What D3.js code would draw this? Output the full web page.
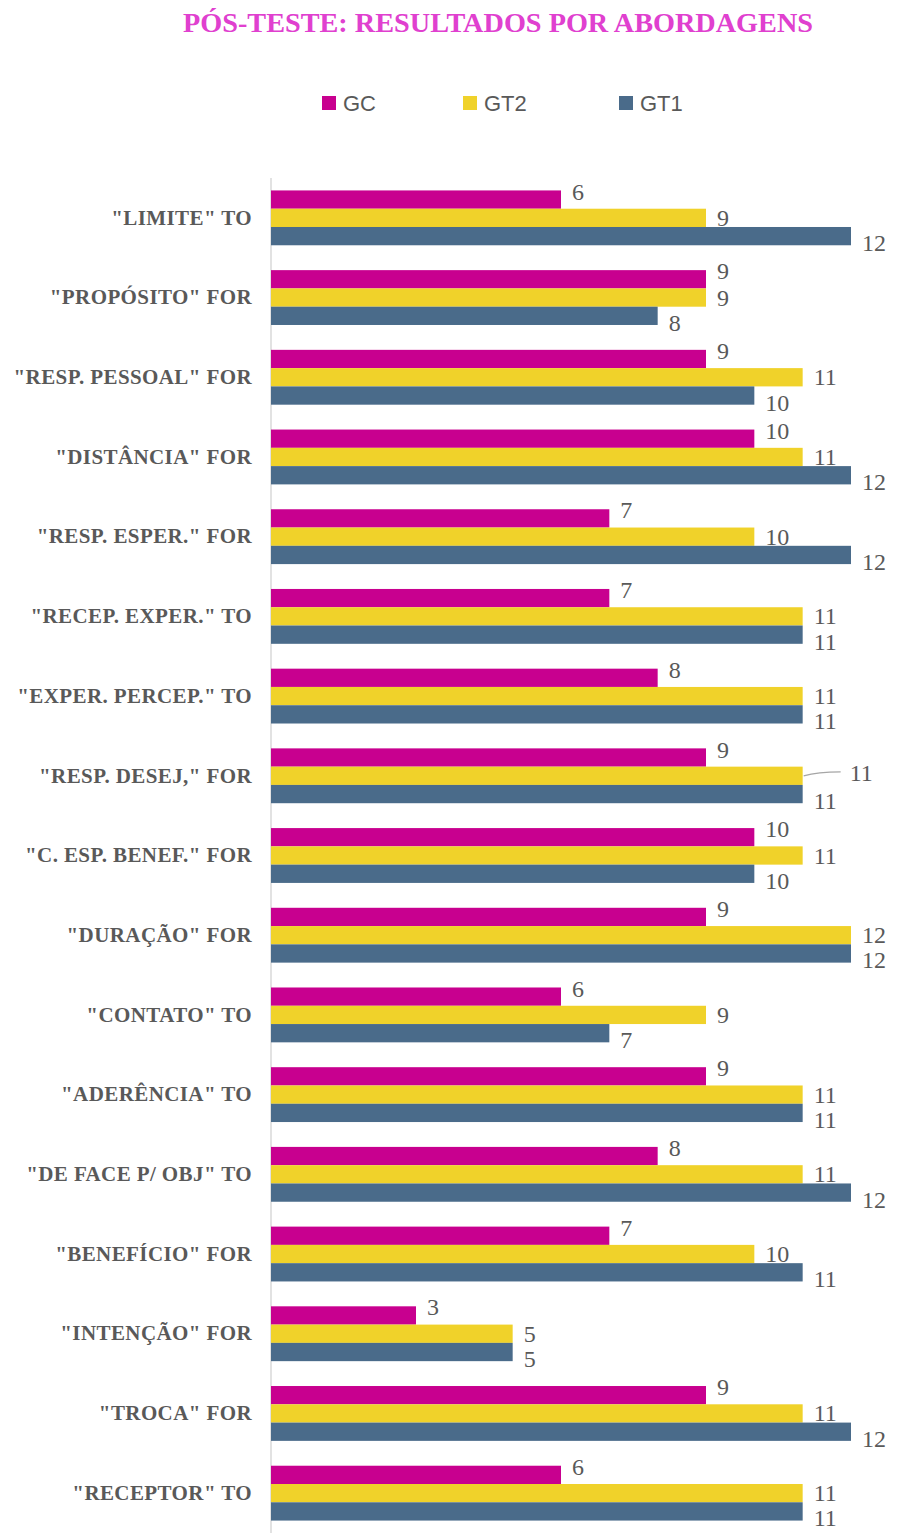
<!DOCTYPE html>
<html><head><meta charset="utf-8">
<script src="https://cdn.jsdelivr.net/npm/d3@7"></script>
<style>body{margin:0;background:#fff}</style>
</head><body>
<svg id="chart" width="898" height="1533"></svg>
<script>
const categories = ['"LIMITE" TO','"PROPÓSITO" FOR','"RESP. PESSOAL" FOR','"DISTÂNCIA" FOR','"RESP. ESPER." FOR','"RECEP. EXPER." TO','"EXPER. PERCEP." TO','"RESP. DESEJ," FOR','"C. ESP. BENEF." FOR','"DURAÇÃO" FOR','"CONTATO" TO','"ADERÊNCIA" TO','"DE FACE P/ OBJ" TO','"BENEFÍCIO" FOR','"INTENÇÃO" FOR','"TROCA" FOR','"RECEPTOR" TO'];
const seriesNames = ["GC","GT2","GT1"];
const GC  = [6,9,9,10,7,7,8,9,10,9,6,9,8,7,3,9,6];
const GT2 = [9,9,11,11,10,11,11,11,11,12,9,11,11,10,5,11,11];
const GT1 = [12,8,10,12,12,11,11,11,10,12,7,11,12,11,5,12,11];
const seriesValues = [GC, GT2, GT1];
const colors = ["#C8008F","#F0D22A","#4A6B8A"];

const svg = d3.select("#chart");
const x = d3.scaleLinear().domain([0,12]).range([271,851]);
const y0 = d3.scaleBand().domain(categories).range([178,1533]).padding(0);
const y1 = d3.scaleBand().domain(seriesNames).range([0,y0.bandwidth()]).paddingInner(0).paddingOuter(0.68);

// title
svg.append("text").attr("x",498).attr("y",32).attr("text-anchor","middle")
  .attr("font-family","'Liberation Serif','Times New Roman',serif").attr("font-weight","bold")
  .attr("font-size",27).attr("fill","#E040CF").attr("textLength",630).attr("lengthAdjust","spacingAndGlyphs")
  .text("PÓS-TESTE: RESULTADOS POR ABORDAGENS");

// legend
const legX = [322,463,619];
seriesNames.forEach((s,i)=>{
  const g = svg.append("g").attr("transform",`translate(${legX[i]},96)`);
  g.append("rect").attr("width",14).attr("height",14).attr("fill",colors[i]);
  g.append("text").attr("x",21).attr("y",7).attr("dominant-baseline","central")
    .attr("font-family","'Liberation Sans',Arial,sans-serif").attr("font-size",22).attr("fill","#595959").text(s);
});

// axis line
svg.append("line").attr("x1",x(0)).attr("x2",x(0)).attr("y1",178).attr("y2",1533)
  .attr("stroke","#D9D9D9").attr("stroke-width",1.5);

// category labels
const yAxis = d3.axisLeft(y0).tickSize(0).tickPadding(19);
const ag = svg.append("g").attr("transform",`translate(${x(0)},0)`).call(yAxis);
ag.select(".domain").remove();
ag.selectAll("text").attr("font-family","'Liberation Serif','Times New Roman',serif")
  .attr("font-weight","bold").attr("font-size",21).attr("letter-spacing","0.4px").attr("fill","#595959");

// bars
const labelDy = [-8,0,7];
const leaderCat = '"RESP. DESEJ," FOR';
categories.forEach((c,ci)=>{
  seriesNames.forEach((s,si)=>{
    const v = seriesValues[si][ci];
    const yy = y0(c)+y1(s);
    const cy = yy+y1.bandwidth()/2;
    svg.append("rect").attr("x",x(0)).attr("y",yy).attr("width",x(v)-x(0)).attr("height",y1.bandwidth())
      .attr("fill",colors[si]);
    let lx = x(v)+11, ly = cy+labelDy[si];
    if (c===leaderCat && s==="GT2") {
      lx = x(v)+47; ly = cy-3;
      svg.append("path").attr("d",`M${x(v)+1},${cy}Q${x(v)+15},${cy-4} ${x(v)+38},${cy-4}`)
        .attr("fill","none").attr("stroke","#A6A6A6").attr("stroke-width",1.3);
    }
    svg.append("text").attr("x",lx).attr("y",ly)
      .attr("dominant-baseline","central")
      .attr("font-family","'Liberation Serif','Times New Roman',serif").attr("font-size",24).attr("fill","#595959")
      .text(v);
  });
});
</script>
</body></html>
